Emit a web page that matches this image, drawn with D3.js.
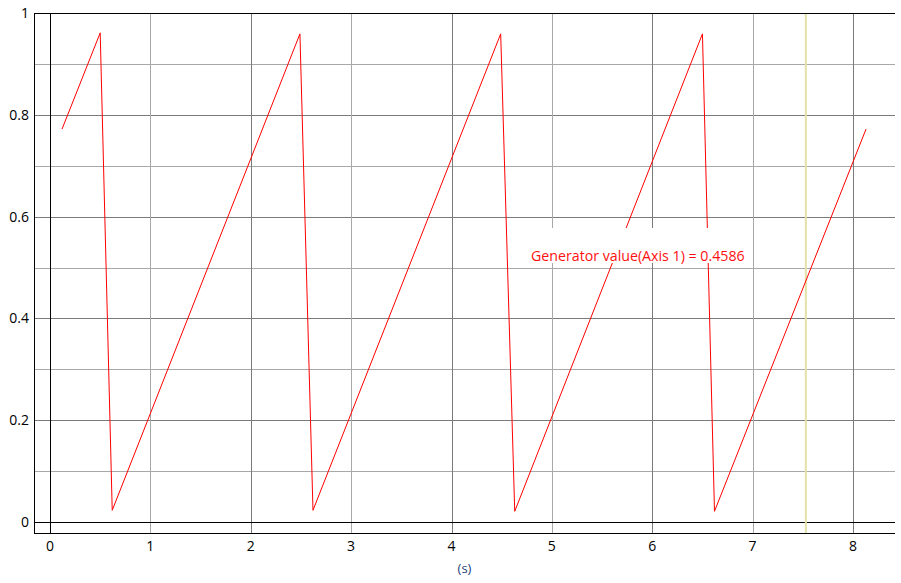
<!DOCTYPE html>
<html><head><meta charset="utf-8">
<script src="https://cdn.jsdelivr.net/npm/d3@7"></script>
<style>body{margin:0;background:#fff;} svg{display:block;} text{font-family:"Open Sans","Noto Sans",sans-serif;}</style>
</head><body><svg id="c" width="901" height="583"></svg>
<script>
const times = [0.12, 0.50, 0.62, 2.49, 2.62, 4.49, 4.63, 6.50, 6.62, 8.13];
const values = [0.772, 0.961, 0.023, 0.959, 0.023, 0.959, 0.021, 0.959, 0.021, 0.772];
const xTicks = [0,1,2,3,4,5,6,7,8];
const yTicks = [0,0.2,0.4,0.6,0.8,1];
const yGrid = [0.1,0.2,0.3,0.4,0.5,0.6,0.7,0.8,0.9];
const cursorTime = [7.53];
const cursorLabel = "Generator value(Axis 1) = 0.4586";
const xLabel = "(s)";

const svg = d3.select("#c");
const L = 34, R = 895, T = 13, B = 533;
const x = d3.scaleLinear().domain([0,8]).range([50,853]);
const y = d3.scaleLinear().domain([0,1]).range([522,13]);

// horizontal grid
svg.append("g").selectAll("line").data(yGrid).join("line")
  .attr("x1",L).attr("x2",R)
  .attr("y1",d=>Math.round(y(d))+0.5).attr("y2",d=>Math.round(y(d))+0.5)
  .attr("stroke",d=>Math.round(d*10)%2===0?"#7a7a7a":"#a8a8a8").attr("stroke-width",1);
// vertical grid
svg.append("g").selectAll("line").data(xTicks.filter(d=>d>0)).join("line")
  .attr("x1",d=>Math.round(x(d))+0.5).attr("x2",d=>Math.round(x(d))+0.5)
  .attr("y1",T).attr("y2",B)
  .attr("stroke",d=>d%2===0?"#7a7a7a":"#a8a8a8").attr("stroke-width",1);

// zero lines and frame
svg.append("line").attr("x1",Math.round(x(0))+0.5).attr("x2",Math.round(x(0))+0.5).attr("y1",T).attr("y2",B).attr("stroke","#000");
svg.append("line").attr("x1",L).attr("x2",R).attr("y1",Math.round(y(0))+0.5).attr("y2",Math.round(y(0))+0.5).attr("stroke","#000");
svg.append("line").attr("x1",L).attr("x2",R).attr("y1",T+0.5).attr("y2",T+0.5).attr("stroke","#000");
svg.append("line").attr("x1",L).attr("x2",R).attr("y1",B+0.5).attr("y2",B+0.5).attr("stroke","#000");
svg.append("line").attr("x1",L+0.5).attr("x2",L+0.5).attr("y1",T).attr("y2",B+1).attr("stroke","#000");

// cursor
svg.append("g").selectAll("line").data(cursorTime).join("line")
  .attr("x1",d=>x(d)).attr("x2",d=>x(d)).attr("y1",T+1).attr("y2",B)
  .attr("stroke","#e2e2a6").attr("stroke-width",2);

// series
const pts = times.map((t,i)=>[t,values[i]]);
svg.append("path").datum(pts)
  .attr("d", d3.line().x(d=>x(d[0])).y(d=>y(d[1])))
  .attr("fill","none").attr("stroke","#ff0000").attr("stroke-width",1);

// label box
svg.append("rect").attr("x",520).attr("y",228).attr("width",232).attr("height",35).attr("fill","#fff");
svg.append("text").attr("x",531).attr("y",261).attr("fill","#ff1010")
  .attr("font-size","14.2px").text(cursorLabel);

// y tick labels
svg.append("g").selectAll("text").data(yTicks).join("text")
  .attr("x",29).attr("y",d=>y(d)+5).attr("text-anchor","end")
  .attr("font-size","14px").attr("fill","#000").text(d=>d3.format("~g")(d));
// x tick labels
svg.append("g").selectAll("text").data(xTicks).join("text")
  .attr("x",d=>x(d)).attr("y",551).attr("text-anchor","middle")
  .attr("font-size","14px").attr("fill","#000").text(d=>d);
svg.append("text").attr("x",(L+R)/2).attr("y",573).attr("text-anchor","middle")
  .attr("font-size","13px").attr("fill","#1f3f77").text(xLabel);
</script></body></html>
